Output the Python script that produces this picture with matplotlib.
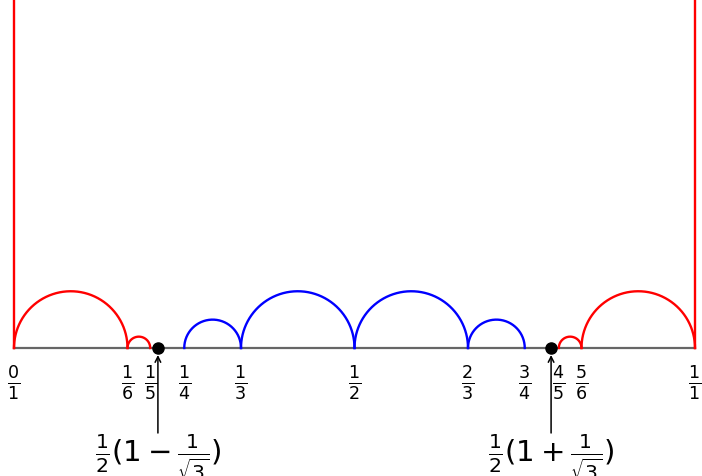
import matplotlib
matplotlib.use('Agg')
import matplotlib.pyplot as plt
import numpy as np

plt.rcParams['mathtext.fontset'] = 'dejavusans'

# Farey fractions on the axis
tick_vals = [0, 1/6, 1/5, 1/4, 1/3, 1/2, 2/3, 3/4, 4/5, 5/6, 1]
tick_labels = [r'$\frac{0}{1}$', r'$\frac{1}{6}$', r'$\frac{1}{5}$', r'$\frac{1}{4}$',
               r'$\frac{1}{3}$', r'$\frac{1}{2}$', r'$\frac{2}{3}$', r'$\frac{3}{4}$',
               r'$\frac{4}{5}$', r'$\frac{5}{6}$', r'$\frac{1}{1}$']

# geodesics (endpoints)
red_arcs = [(0, 1/6), (1/6, 1/5), (4/5, 5/6), (5/6, 1)]
blue_arcs = [(1/4, 1/3), (1/3, 1/2), (1/2, 2/3), (2/3, 3/4)]
red_vlines = [0, 1]

# marked points
pts = [0.5 * (1 - 1 / np.sqrt(3)), 0.5 * (1 + 1 / np.sqrt(3))]
pt_labels = [r'$\frac{1}{2}(1-\frac{1}{\sqrt{3}})$', r'$\frac{1}{2}(1+\frac{1}{\sqrt{3}})$']

W, H = 702, 476
x0, x1 = 14, 695
base = 348
scale = x1 - x0

fig = plt.figure(figsize=(W / 100, H / 100), dpi=100)
ax = fig.add_axes([x0 / W, 0, scale / W, 1])
ax.set_xlim(0, 1)
ax.set_ylim(-(H - base) / scale, base / scale)
ax.axis('off')

th = np.linspace(0, np.pi, 200)

def arc(a, b, color):
    c = (a + b) / 2
    r = (b - a) / 2
    ax.plot(c + r * np.cos(th), r * np.sin(th), color=color, lw=1.7, clip_on=False)

ax.plot([0, 1], [0, 0], color='#666666', lw=1.6, zorder=1, clip_on=False)
for a, b in red_arcs:
    arc(a, b, 'red')
for a, b in blue_arcs:
    arc(a, b, 'blue')
for v in red_vlines:
    ax.plot([v, v], [0, base / scale], color='red', lw=1.7, clip_on=False)

for v, s in zip(tick_vals, tick_labels):
    ax.text(v, -35 / scale, s, ha='center', va='center', fontsize=18)

for p, s in zip(pts, pt_labels):
    ax.plot(p, 0, 'o', color='black', ms=8, zorder=5)
    ax.annotate('', xy=(p, -7 / scale), xytext=(p, -85 / scale),
                arrowprops=dict(arrowstyle='->', color='black', lw=1.1, shrinkA=0, shrinkB=0))
    ax.text(p, -109 / scale, s, ha='center', va='center', fontsize=21)

fig.savefig('out.png', dpi=100)
